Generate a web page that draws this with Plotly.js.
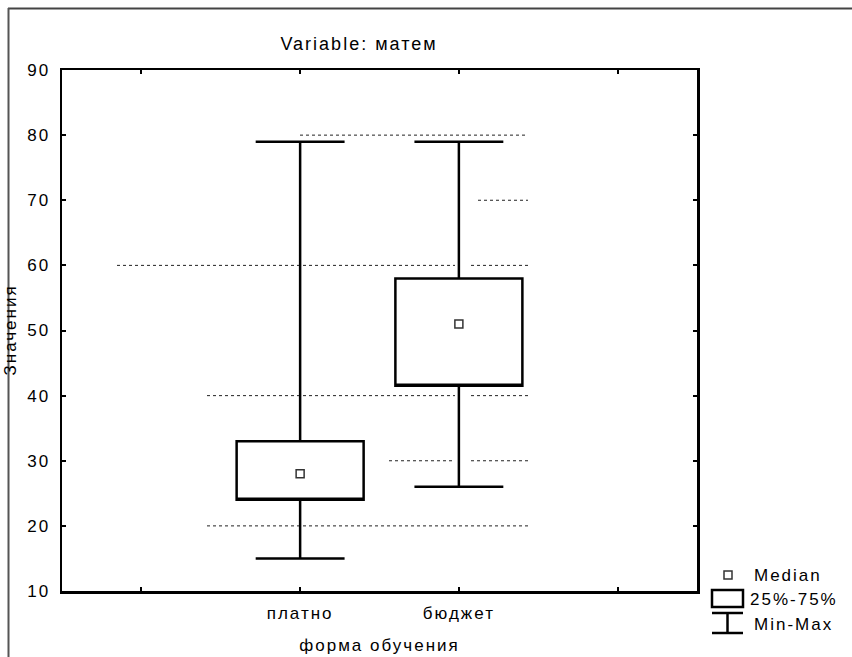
<!DOCTYPE html>
<html>
<head>
<meta charset="utf-8">
<script src="https://cdn.plot.ly/plotly-3.0.1.min.js"></script>
<style>
  html, body { margin: 0; padding: 0; background: #fff; }
  #chart { width: 852px; height: 657px; }
  svg text { letter-spacing: 2px; }
</style>
</head>
<body>
<div id="chart"></div>
<script>
// ---- data ----
const categories = ['платно', 'бюджет'];
const minVals    = [15, 26];
const q1Vals     = [24, 41.5];
const medianVals = [28, 51];
const q3Vals     = [33, 58];
const maxVals    = [79, 79];
const yTicks     = [10, 20, 30, 40, 50, 60, 70, 80, 90];
const chartTitle = 'Variable: матем';
const xTitle     = 'форма обучения';
const yTitle     = 'Значения';
const legendLabels = ['Median', '25%-75%', 'Min-Max'];

// ---- layout helpers ----
const W = 852, H = 657;
const M = {l: 62, r: 155, t: 70, b: 66};
const PW = W - M.l - M.r, PH = H - M.t - M.b;
const px = x => (x - M.l) / PW;          // page pixel -> paper x
const py = y => (H - M.b - y) / PH;      // page pixel -> paper y

// category positions: two empty slots on the sides
const xPos = categories.map((c, i) => i + 1);
const tickVals = [0].concat(xPos, [categories.length + 1]);
const tickText = [''].concat(categories, ['']);

const FONT = {family: 'Liberation Sans, Arial, sans-serif', size: 17, color: '#000'};

const boxTrace = {
  type: 'box',
  x: xPos,
  q1: q1Vals,
  median: q1Vals,           // median line hidden on the box edge; median drawn as marker
  q3: q3Vals,
  lowerfence: minVals,
  upperfence: maxVals,
  width: 0.8,
  whiskerwidth: 0.7,
  fillcolor: '#ffffff',
  line: {color: '#000', width: 2.5},
  boxpoints: false,
  hoverinfo: 'skip',
  showlegend: false
};

const medianTrace = {
  type: 'scatter',
  mode: 'markers',
  x: xPos,
  y: medianVals,
  marker: {symbol: 'square-open', size: 8, color: '#333', line: {width: 1.5, color: '#333'}},
  hoverinfo: 'skip',
  showlegend: false
};

// fragmented dotted gridlines as in the reference
const gridFrags = [
  {v: 80, segs: [[300, 528]]},
  {v: 70, segs: [[478, 528]]},
  {v: 60, segs: [[117, 455], [471, 528]]},
  {v: 40, segs: [[207, 455], [471, 528]]},
  {v: 30, segs: [[389, 455], [471, 528]]},
  {v: 20, segs: [[207, 528]]}
];
const shapes = [];
gridFrags.forEach(g => g.segs.forEach(s => shapes.push({
  type: 'line', layer: 'below', xref: 'paper', yref: 'y',
  x0: px(s[0]), x1: px(s[1]), y0: g.v, y1: g.v,
  line: {color: '#222', width: 1, dash: 'dot'}
})));

// outer frame (top and left)
shapes.push({type: 'line', xref: 'paper', yref: 'paper', x0: px(8), x1: px(852), y0: py(8.5), y1: py(8.5), line: {color: '#444', width: 2}});
shapes.push({type: 'line', xref: 'paper', yref: 'paper', x0: px(8.5), x1: px(8.5), y0: py(8), y1: py(657), line: {color: '#555', width: 2}});

// custom legend glyphs
shapes.push({type: 'rect', xref: 'paper', yref: 'paper', x0: px(724), x1: px(732), y0: py(571), y1: py(579), line: {color: '#333', width: 1.5}});
shapes.push({type: 'rect', xref: 'paper', yref: 'paper', x0: px(712), x1: px(743), y0: py(590), y1: py(607), line: {color: '#000', width: 2.5}});
shapes.push({type: 'line', xref: 'paper', yref: 'paper', x0: px(712), x1: px(743), y0: py(613), y1: py(613), line: {color: '#000', width: 2.5}});
shapes.push({type: 'line', xref: 'paper', yref: 'paper', x0: px(727.5), x1: px(727.5), y0: py(613), y1: py(633), line: {color: '#000', width: 2.5}});
shapes.push({type: 'line', xref: 'paper', yref: 'paper', x0: px(712), x1: px(743), y0: py(633), y1: py(633), line: {color: '#000', width: 2.5}});

const legendY = [575, 599, 624];
const legendX = [752, 748, 752];
const annotations = legendLabels.map((t, i) => ({
  text: t, xref: 'paper', yref: 'paper', x: px(legendX[i]), y: py(legendY[i]),
  xanchor: 'left', yanchor: 'middle', showarrow: false, font: FONT
}));
annotations.push({
  text: yTitle, xref: 'paper', yref: 'paper', x: px(10), y: 0.5,
  xanchor: 'center', yanchor: 'middle', textangle: -90, showarrow: false, font: FONT
});

const layout = {
  width: W, height: H,
  margin: M,
  paper_bgcolor: '#fff', plot_bgcolor: '#fff',
  font: FONT,
  showlegend: false,
  title: {text: chartTitle, font: Object.assign({}, FONT, {size: 18}), x: 359 / W, xref: 'container', xanchor: 'center',
          y: 1 - 44 / H, yref: 'container', yanchor: 'middle'},
  xaxis: {
    range: [-0.5, categories.length + 1.5],
    tickvals: tickVals, ticktext: tickText,
    ticks: 'inside', ticklen: 4, tickwidth: 2, tickcolor: '#000',
    showline: true, linecolor: '#000', linewidth: 2.5, mirror: 'ticks',
    showgrid: false, zeroline: false,
    ticklabelstandoff: 5,
    tickfont: FONT,
    title: {text: xTitle, font: FONT, standoff: 17},
    automargin: false, fixedrange: true
  },
  yaxis: {
    range: [10, 90],
    tickvals: yTicks, ticktext: yTicks.map(String),
    ticks: 'inside', ticklen: 4, tickwidth: 2, tickcolor: '#000',
    showline: true, linecolor: '#000', linewidth: 2.5, mirror: 'ticks',
    showgrid: false, zeroline: false,
    ticklabelstandoff: 6,
    tickfont: FONT,
    automargin: false, fixedrange: true
  },
  shapes: shapes,
  annotations: annotations
};

Plotly.newPlot('chart', [boxTrace, medianTrace], layout, {displayModeBar: false, staticPlot: true});
</script>
</body>
</html>
